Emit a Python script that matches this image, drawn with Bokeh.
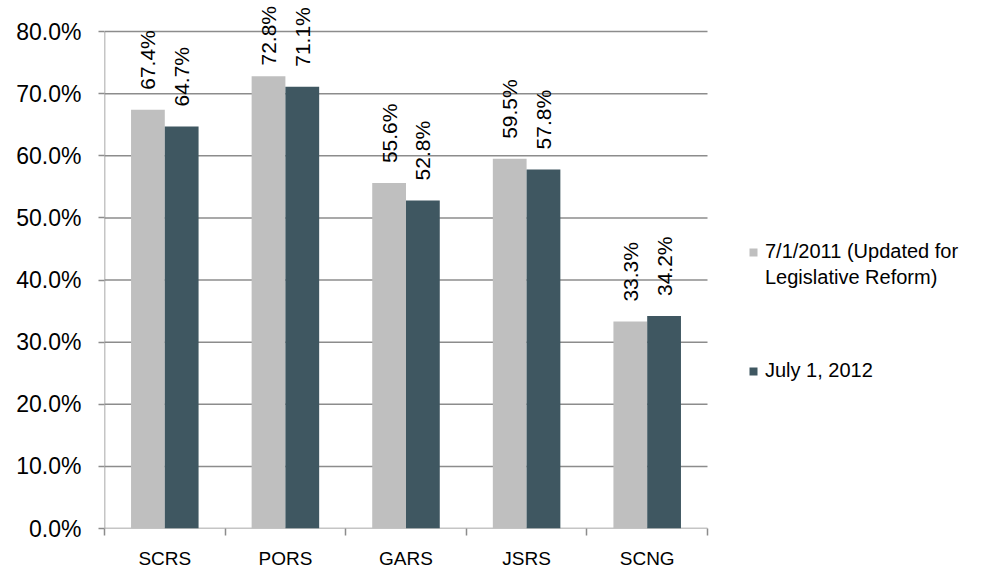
import math
from bokeh.plotting import figure
from bokeh.models import (ColumnDataSource, FixedTicker, PrintfTickFormatter, Range1d,
                          Legend, LegendItem)
from bokeh.core.properties import value
from bokeh.embed import file_html
from bokeh.resources import INLINE

categories = ["SCRS", "PORS", "GARS", "JSRS", "SCNG"]
series_2011 = [67.4, 72.8, 55.6, 59.5, 33.3]
series_2012 = [64.7, 71.1, 52.8, 57.8, 34.2]
label_2011_line1 = "7/1/2011 (Updated for"
label_2011_line2 = "Legislative Reform)"
label_2012 = "July 1, 2012"
y_ticks = [0, 10, 20, 30, 40, 50, 60, 70, 80]
y_max = 80

GRAY = "#BFBFBF"
DARK = "#3F5761"
AXIS = "#8C8C8C"
FONT = "Liberation Sans"

n = len(categories)
centers = [i + 0.5 for i in range(n)]
bw = 0.28
x1 = [c - bw / 2 for c in centers]
x2 = [c + bw / 2 for c in centers]

# frame spans the legend area and the label overhang above the 80% line
frame_left, frame_right, frame_bottom, axis_top = 104, 990, 528, 31
cat_px = 120.6
x_end = (frame_right - frame_left) / cat_px
y_end = y_max * frame_bottom / (frame_bottom - axis_top)
px_per_unit = frame_bottom / y_end

# label offset: 20px above the bar, but pushed down if it would leave the canvas
LABEL_LEN = 62
def offsets(vals):
    out = []
    for v in vals:
        top_px = frame_bottom - v * px_per_unit
        out.append(-min(20, top_px - LABEL_LEN - 3))
    return out

src1 = ColumnDataSource(dict(x=x1, top=series_2011, txt=[f"{v:.1f}%" for v in series_2011],
                             off=offsets(series_2011)))
src2 = ColumnDataSource(dict(x=x2, top=series_2012, txt=[f"{v:.1f}%" for v in series_2012],
                             off=offsets(series_2012)))

p = figure(width=992, height=573, output_backend="svg", toolbar_location=None,
           x_range=Range1d(0, x_end), y_range=Range1d(0, y_end),
           min_border_left=frame_left, min_border_right=992 - frame_right,
           min_border_top=0, min_border_bottom=573 - frame_bottom)
p.outline_line_color = None
p.background_fill_color = "white"
p.border_fill_color = "white"

# horizontal gridlines limited to the category area, plus the axis lines
p.segment(x0=[0] * len(y_ticks), x1=[n] * len(y_ticks), y0=y_ticks, y1=y_ticks,
          line_color=AXIS, line_width=1.5)
p.segment(x0=[0], x1=[0], y0=[0], y1=[y_max], line_color=AXIS, line_width=1.5)

r1 = p.vbar(x="x", top="top", width=bw, source=src1, fill_color=GRAY, line_color=None)
r2 = p.vbar(x="x", top="top", width=bw, source=src2, fill_color=DARK, line_color=None)
r_blank = p.vbar(x=[], top=[], width=bw, fill_color=None, line_color=None)

for src in (src1, src2):
    p.text(x="x", y="top", text="txt", source=src, angle=math.pi / 2,
           text_align="left", text_baseline="middle", y_offset="off",
           text_font=value(FONT), text_font_size="21px", text_color="#000000")

# x axis
p.xaxis.ticker = FixedTicker(ticks=centers, minor_ticks=list(range(n + 1)))
p.xaxis.major_label_overrides = {c: cat for c, cat in zip(centers, categories)}
p.xaxis.major_tick_line_color = None
p.xaxis.major_tick_out = 0
p.xaxis.major_tick_in = 0
p.xaxis.minor_tick_line_color = AXIS
p.xaxis.minor_tick_line_width = 1.5
p.xaxis.minor_tick_out = 7
p.xaxis.minor_tick_in = 0
p.xaxis.axis_line_color = None
p.xaxis.major_label_standoff = 12
p.xaxis.major_label_text_font = FONT
p.xaxis.major_label_text_font_size = "19px"
p.xaxis.major_label_text_color = "#000000"
p.xgrid.grid_line_color = None

# y axis
p.yaxis.ticker = FixedTicker(ticks=y_ticks, minor_ticks=[])
p.yaxis.formatter = PrintfTickFormatter(format="%.1f%%")
p.yaxis.axis_line_color = None
p.yaxis.major_tick_line_color = AXIS
p.yaxis.major_tick_line_width = 1.5
p.yaxis.major_tick_out = 6
p.yaxis.major_tick_in = 0
p.yaxis.minor_tick_line_color = None
p.yaxis.major_label_standoff = 17
p.yaxis.major_label_text_font = FONT
p.yaxis.major_label_text_font_size = "23px"
p.yaxis.major_label_text_color = "#000000"
p.ygrid.grid_line_color = None

legend_style = dict(orientation="vertical", glyph_width=10, glyph_height=10,
                    label_standoff=7, padding=0, margin=0,
                    border_line_color=None, background_fill_alpha=0,
                    label_text_font=FONT, label_text_font_size="20px",
                    label_text_color="#000000")
legend_a = Legend(items=[LegendItem(label=label_2011_line1, renderers=[r1]),
                         LegendItem(label=label_2011_line2, renderers=[r_blank])],
                  location=(644, 239), spacing=3, **legend_style)
legend_b = Legend(items=[LegendItem(label=label_2012, renderers=[r2])],
                  location=(644, 146), spacing=0, **legend_style)
p.add_layout(legend_a, "center")
p.add_layout(legend_b, "center")

open("out.html", "w").write(file_html(p, INLINE))
